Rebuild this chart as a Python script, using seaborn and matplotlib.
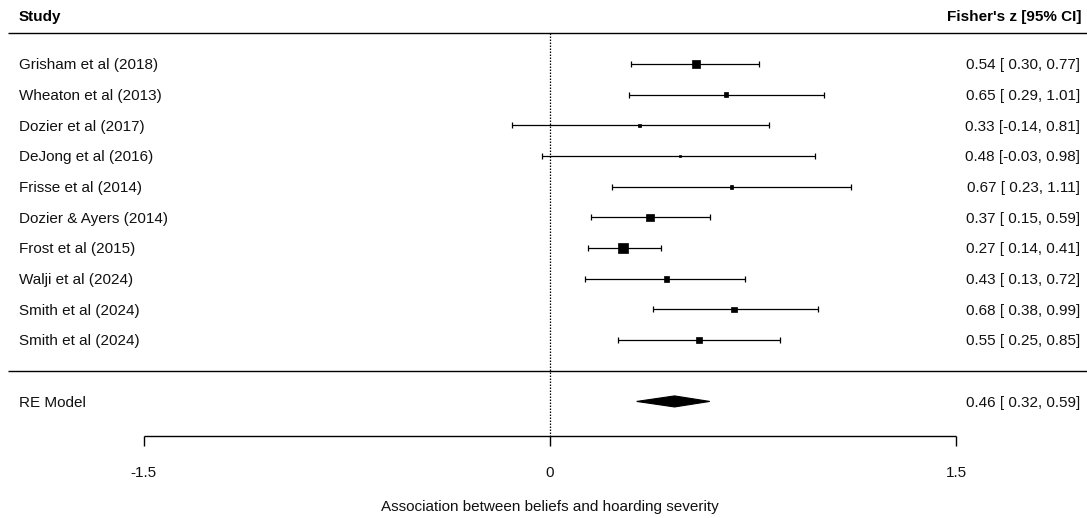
import numpy as np
import pandas as pd
import matplotlib
matplotlib.use("Agg")
import matplotlib.pyplot as plt
import seaborn as sns

# ---------------- data ----------------
studies = ["Grisham et al (2018)", "Wheaton et al (2013)", "Dozier et al (2017)",
           "DeJong et al (2016)", "Frisse et al (2014)", "Dozier & Ayers (2014)",
           "Frost et al (2015)", "Walji et al (2024)", "Smith et al (2024)",
           "Smith et al (2024)"]
estimates = [0.54, 0.65, 0.33, 0.48, 0.67, 0.37, 0.27, 0.43, 0.68, 0.55]
ci_lower = [0.30, 0.29, -0.14, -0.03, 0.23, 0.15, 0.14, 0.13, 0.38, 0.25]
ci_upper = [0.77, 1.01, 0.81, 0.98, 1.11, 0.59, 0.41, 0.72, 0.99, 0.85]
weights = [15.7, 6.1, 2.7, 1.5, 3.9, 15.7, 24.6, 8.8, 8.8, 12.0]

re_label = "RE Model"
re_est, re_lo, re_hi = 0.46, 0.32, 0.59

x_ticks = [-1.5, 0, 1.5]
x_tick_labels = ["-1.5", "0", "1.5"]
x_label = "Association between beliefs and hoarding severity"
header_left = "Study"
header_right = "Fisher's z [95% CI]"

# ---------------- style ----------------
sns.set_theme(style="white")
plt.rcParams["font.family"] = ["Liberation Sans", "DejaVu Sans"]
FS = 11
TXT = "#111111"

fig = plt.figure(figsize=(10.87, 5.18), dpi=100)
ax = fig.add_axes([0, 0, 1, 1])
ax.set_xlim(-2.031, 1.983)
ax.set_ylim(14.80, -2.087)
ax.axis("off")

rows = np.arange(len(studies))
df = pd.DataFrame({"study": studies, "est": estimates, "lo": ci_lower,
                   "hi": ci_upper, "w": weights, "row": rows})

# CI lines and caps
ax.hlines(df["row"], df["lo"], df["hi"], color="black", lw=0.9)
cap = 0.1
ax.vlines(df["lo"], df["row"] - cap, df["row"] + cap, color="black", lw=0.9)
ax.vlines(df["hi"], df["row"] - cap, df["row"] + cap, color="black", lw=0.9)

# squares: area proportional to weight
max_side_pt = 9.6 / (100 / 72)
sns.scatterplot(data=df, x="est", y="row", size="w", sizes=(0, max_side_pt ** 2),
                size_norm=(0, max(weights)), marker="s", color="black",
                edgecolor="black", linewidth=0.5, legend=False, ax=ax, zorder=3)

# RE diamond
re_row = len(studies) + 1
dh = 0.18
ax.fill([re_lo, re_est, re_hi, re_est], [re_row, re_row - dh, re_row, re_row + dh],
        color="black", lw=0.8, edgecolor="black", zorder=3)

# labels
x_left = -1.961
x_right = 1.957
dy = 0.04
for r, s, e, l, h in zip(rows, studies, estimates, ci_lower, ci_upper):
    ax.text(x_left, r + dy, s, ha="left", va="center", fontsize=FS, color=TXT)
    ax.text(x_right, r + dy, f"{e:.2f} [{l:5.2f}, {h:.2f}]", ha="right", va="center",
            fontsize=FS, color=TXT)
ax.text(x_left, re_row + dy, re_label, ha="left", va="center", fontsize=FS, color=TXT)
ax.text(x_right, re_row + dy, f"{re_est:.2f} [{re_lo:5.2f}, {re_hi:.2f}]", ha="right",
        va="center", fontsize=FS, color=TXT)

# headers
ax.text(x_left, -1.53, header_left, ha="left", va="center", fontsize=FS,
        fontweight="bold", color="black")
ax.text(x_right + 0.005, -1.53, header_right, ha="right", va="center", fontsize=FS,
        fontweight="bold", color="black")

# horizontal rules
ax.hlines([-1.01, 10.01], -2.001, 1.983, color="black", lw=1.0)

# dotted reference line
axis_y = 12.13
ax.vlines(0, -1.01, axis_y, color="black", lw=0.9, linestyles=(0, (1.2, 1.2)))

# custom x axis
ax.hlines(axis_y, x_ticks[0], x_ticks[-1], color="black", lw=1.0)
ax.vlines(x_ticks, axis_y, axis_y + 0.33, color="black", lw=1.0)
for t, lab in zip(x_ticks, x_tick_labels):
    ax.text(t, 13.32, lab, ha="center", va="center", fontsize=FS, color=TXT)
ax.text(0, 14.45, x_label, ha="center", va="center", fontsize=FS, color=TXT)

fig.savefig("out.png", dpi=100, facecolor="white")
